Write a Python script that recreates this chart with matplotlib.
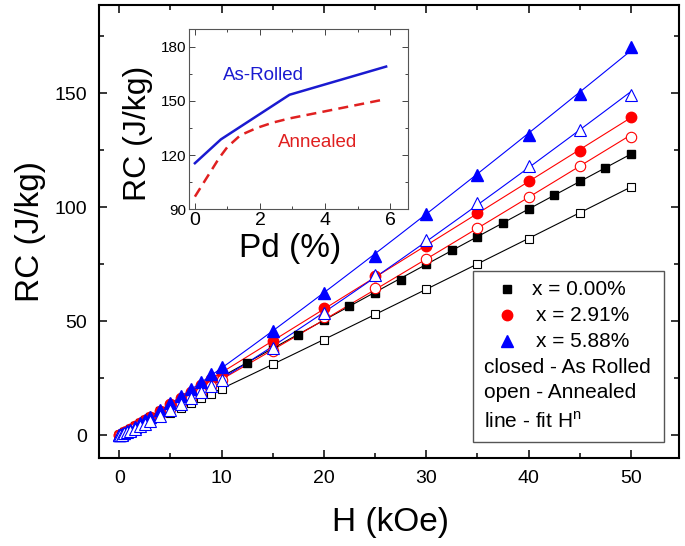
import numpy as np
import matplotlib
matplotlib.use("Agg")
import matplotlib.pyplot as plt
from matplotlib.patches import Rectangle
from matplotlib.ticker import MultipleLocator

plt.rcParams['font.family'] = ['Liberation Sans', 'DejaVu Sans']

# field values (kOe)
h_std = [0, 0.1, 0.25, 0.5, 0.75, 1, 1.5, 2, 2.5, 3, 4, 5, 6, 7, 8, 9, 10,
         15, 20, 25, 30, 35, 40, 45, 50]
h_x0_rolled = [0, 0.1, 0.25, 0.5, 0.75, 1, 1.5, 2, 2.5, 3, 4, 5, 6, 7, 8, 9, 10,
               12.5, 15, 17.5, 20, 22.5, 25, 27.5, 30, 32.5, 35, 37.5, 40,
               42.5, 45, 47.5, 50]

# RC (J/kg)
rc_x0_rolled = [0, 0.3, 0.72, 1.41, 2.1, 2.77, 4.1, 5.42, 6.74, 8.04, 10.6, 13.2,
                15.8, 18.3, 20.8, 23.3, 25.9, 31.8, 38.4, 43.8, 50.4, 56.6, 62.5,
                68.3, 74.9, 81.2, 87.0, 93.1, 99.0, 105.4, 111.4, 117.2, 123.4]
rc_x0_annealed = [0, 0.17, 0.44, 0.90, 1.38, 1.86, 2.84, 3.82, 4.82, 5.83, 7.86,
                  9.92, 12.0, 14.1, 16.2, 18.3, 20.4, 31.1, 42.0, 53.0, 64.2,
                  75.3, 86.1, 97.5, 108.8]
rc_x291_rolled = [0, 0.26, 0.66, 1.33, 2.0, 2.68, 4.04, 5.4, 6.76, 8.13, 10.9,
                  13.6, 16.4, 19.1, 21.9, 24.7, 27.4, 41.3, 55.8, 69.8, 82.9,
                  97.5, 111.4, 124.5, 139.4]
rc_x291_annealed = [0, 0.19, 0.5, 1.03, 1.58, 2.14, 3.28, 4.43, 5.61, 6.79, 9.19,
                    11.6, 14.1, 16.5, 19.0, 21.5, 24.1, 36.9, 52.0, 64.7, 77.5,
                    90.9, 104.5, 118.0, 130.8]
rc_x588_rolled = [0, 0.2, 0.5, 1.1, 1.8, 2.5, 3.8, 5.3, 6.7, 8.2, 11.2, 14.4,
                  17.4, 20.5, 23.6, 26.8, 29.8, 45.7, 62.5, 78.8, 96.8, 113.9,
                  131.8, 149.8, 170.2]
rc_x588_annealed = [0, 0.13, 0.38, 0.83, 1.31, 1.81, 2.86, 3.96, 5.09, 6.25, 8.65,
                    11.1, 13.7, 16.3, 18.9, 21.6, 24.3, 38.4, 53.7, 70.1, 85.8,
                    101.9, 118.0, 133.6, 149.3]

# inset: RC at 50 kOe vs Pd content
pd_rolled = [0, 0.8, 2.91, 5.88]
rc_pd_rolled = [115.5, 128.7, 153.4, 169.0]
pd_annealed = [0, 0.75, 1.0, 1.4, 1.9, 2.4, 2.91, 5.88]
rc_pd_annealed = [97.0, 118.5, 124.5, 131.0, 135.0, 138.0, 140.3, 151.0]

BLUE = '#0000ff'
RED = '#ff0000'


def fit_line(ax, h, rc, color):
    # power-law fit RC = a*H^n, weighted so large-H points count in linear space
    h = np.array(h, dtype=float)
    rc = np.array(rc, dtype=float)
    m = h > 0
    n, loga = np.polyfit(np.log(h[m]), np.log(rc[m]), 1, w=rc[m])
    hh = np.linspace(0, h.max(), 400)
    ax.plot(hh, np.exp(loga) * hh ** n, color=color, lw=0.8, zorder=2)


fig = plt.figure(figsize=(6.85, 5.46), dpi=100)
ax = fig.add_axes([0.145, 0.1612, 0.8462, 0.8297])

series = [
    (h_x0_rolled, rc_x0_rolled, 'black', 's', 6, True),
    (h_std, rc_x0_annealed, 'black', 's', 6, False),
    (h_std, rc_x291_rolled, RED, 'o', 7.5, True),
    (h_std, rc_x291_annealed, RED, 'o', 7.5, False),
    (h_std, rc_x588_rolled, BLUE, '^', 9, True),
    (h_std, rc_x588_annealed, BLUE, '^', 9, False),
]
for i, (h, rc, c, mk, ms, filled) in enumerate(series):
    fit_line(ax, h, rc, c)
    if filled:
        ax.plot(h, rc, ls='none', marker=mk, ms=ms, color=c, mec=c, zorder=3 + i)
    else:
        ax.plot(h, rc, ls='none', marker=mk, ms=ms, mfc='white', mec=c,
                mew=0.8, zorder=3 + i)

ax.set_xlim(-1.95, 54.7)
ax.set_ylim(-9.9, 188.6)
ax.xaxis.set_major_locator(MultipleLocator(10))
ax.xaxis.set_minor_locator(MultipleLocator(5))
ax.yaxis.set_major_locator(MultipleLocator(50))
ax.yaxis.set_minor_locator(MultipleLocator(25))
ax.tick_params(which='both', direction='in', top=True, right=True,
               labelsize=14, width=1.1, pad=9)
ax.tick_params(which='major', length=6)
ax.tick_params(which='minor', length=3.5)
for s in ax.spines.values():
    s.set_linewidth(1.5)

fig.text(390 / 685, 1 - 522 / 546, 'H (kOe)', fontsize=24, ha='center', va='center')
fig.text(30 / 685, 1 - 232 / 546, 'RC (J/kg)', fontsize=24, ha='center',
         va='center', rotation=90)

# legend box
ax.add_patch(Rectangle((0.644, 0.036), 0.33, 0.3775, transform=ax.transAxes,
                       fill=True, fc='white', ec='#555555', lw=1.0, zorder=20))
leg_items = [('s', 'black', 6, 0.372, 0.746, 'x = 0.00%'),
             ('o', RED, 7.5, 0.315, 0.7533, 'x = 2.91%'),
             ('^', BLUE, 9, 0.258, 0.7533, 'x = 5.88%')]
for mk, c, ms, y, tx, lab in leg_items:
    ax.plot([0.7028], [y], marker=mk, ms=ms, color=c, ls='none',
            transform=ax.transAxes, zorder=21, clip_on=False)
    ax.text(tx, y, lab, transform=ax.transAxes, fontsize=15, va='center',
            ha='left', zorder=21)
for y, lab in [(0.2002, 'closed - As Rolled'), (0.1442, 'open - Annealed'),
               (0.0802, 'line - fit H$^\\mathregular{n}$')]:
    ax.text(0.6636, y, lab, transform=ax.transAxes, fontsize=15, va='center',
            ha='left', zorder=21)

# inset
ins = fig.add_axes([0.2755, 0.6167, 0.3200, 0.3302])
ins.plot(pd_rolled, rc_pd_rolled, color='#1a1ad0', lw=1.8)
ins.plot(pd_annealed, rc_pd_annealed, color='#e02020', lw=1.8, ls=(0, (4, 2.5)))
ins.set_xlim(-0.19, 6.55)
ins.set_ylim(90, 189.8)
ins.xaxis.set_major_locator(MultipleLocator(2))
ins.xaxis.set_minor_locator(MultipleLocator(1))
ins.yaxis.set_major_locator(MultipleLocator(30))
ins.yaxis.set_minor_locator(MultipleLocator(15))
ins.tick_params(which='both', direction='in', top=True, right=True,
                width=0.7, color='#444444')
ins.tick_params(which='major', length=4)
ins.tick_params(which='minor', length=2.5)
ins.tick_params(axis='x', labelsize=14, pad=2)
ins.tick_params(axis='y', labelsize=11, pad=1.5)
for s in ins.spines.values():
    s.set_linewidth(0.8)
    s.set_color('#555555')
ins.text(2.12, 163.8, 'As-Rolled', color='#1a1ad0', fontsize=13.5,
         ha='center', va='center')
ins.text(3.78, 126.9, 'Annealed', color='#e02020', fontsize=13.5,
         ha='center', va='center')
fig.text(290 / 685, 1 - 249 / 546, 'Pd (%)', fontsize=24, ha='center', va='center')
fig.text(138 / 685, 1 - 133 / 546, 'RC (J/kg)', fontsize=23, ha='center',
         va='center', rotation=90)

fig.savefig('out.png', dpi=100)
